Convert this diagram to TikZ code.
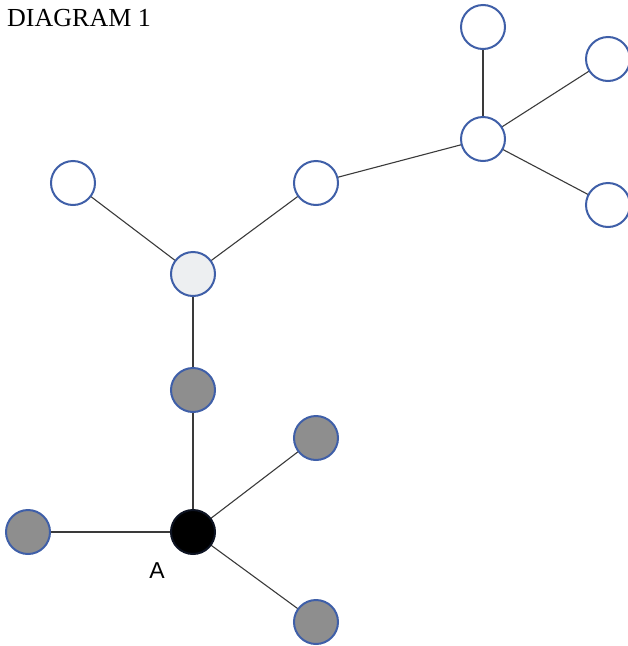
\documentclass[tikz,border=0pt]{standalone}
\usepackage{fontspec}
\setmainfont{Liberation Serif}
\newfontfamily\labelfont{Liberation Sans}
\definecolor{ringblue}{HTML}{3F5FA8}
\definecolor{midgray}{HTML}{8E8E8E}
\definecolor{palegray}{HTML}{EDEFF1}
\definecolor{edgegray}{HTML}{3A3A3A}
\tikzset{
  vert/.style={circle, draw=ringblue, line width=2pt, minimum size=44pt, inner sep=0pt},
  openv/.style={vert, fill=white},
  lightv/.style={vert, fill=palegray},
  grayv/.style={vert, fill=midgray},
  blackv/.style={vert, fill=black, draw=black!80!ringblue},
  edge/.style={draw=edgegray, line width=1.1pt}
}
\begin{document}
\begin{tikzpicture}[x=1pt, y=-1pt]
\useasboundingbox (0,0) rectangle (628,646);
\node[anchor=west, font=\fontsize{26}{30}\selectfont, inner sep=0pt] (title) at (7,18) {DIAGRAM 1};
% edges first
\coordinate (ctop) at (483,27);
\coordinate (crt) at (608,59);
\coordinate (chub) at (483,139);
\coordinate (crb) at (608,205);
\coordinate (cmid) at (316,183);
\coordinate (clt) at (73,183);
\coordinate (clh) at (193,274);
\coordinate (cg) at (193,390);
\coordinate (cgr) at (316,438);
\coordinate (cA) at (193,532);
\coordinate (cgl) at (28,532);
\coordinate (cgb) at (316,622);
\draw[edge] (ctop) -- (chub);
\draw[edge] (crt) -- (chub);
\draw[edge] (crb) -- (chub);
\draw[edge] (cmid) -- (chub);
\draw[edge] (cmid) -- (clh);
\draw[edge] (clt) -- (clh);
\draw[edge] (clh) -- (cg);
\draw[edge] (cg) -- (cA);
\draw[edge] (cgr) -- (cA);
\draw[edge] (cgl) -- (cA);
\draw[edge] (cgb) -- (cA);
% nodes
\node[openv] (top) at (ctop) {};
\node[openv] (rt) at (crt) {};
\node[openv] (hub) at (chub) {};
\node[openv] (rb) at (crb) {};
\node[openv] (mid) at (cmid) {};
\node[openv] (lt) at (clt) {};
\node[lightv] (lh) at (clh) {};
\node[grayv] (g) at (cg) {};
\node[grayv] (gr) at (cgr) {};
\node[blackv] (A) at (cA) {};
\node[grayv] (gl) at (cgl) {};
\node[grayv] (gb) at (cgb) {};
\node[font=\labelfont\fontsize{23}{26}\selectfont, inner sep=0pt] (alabel) at (157,571) {A};
\end{tikzpicture}
\end{document}
